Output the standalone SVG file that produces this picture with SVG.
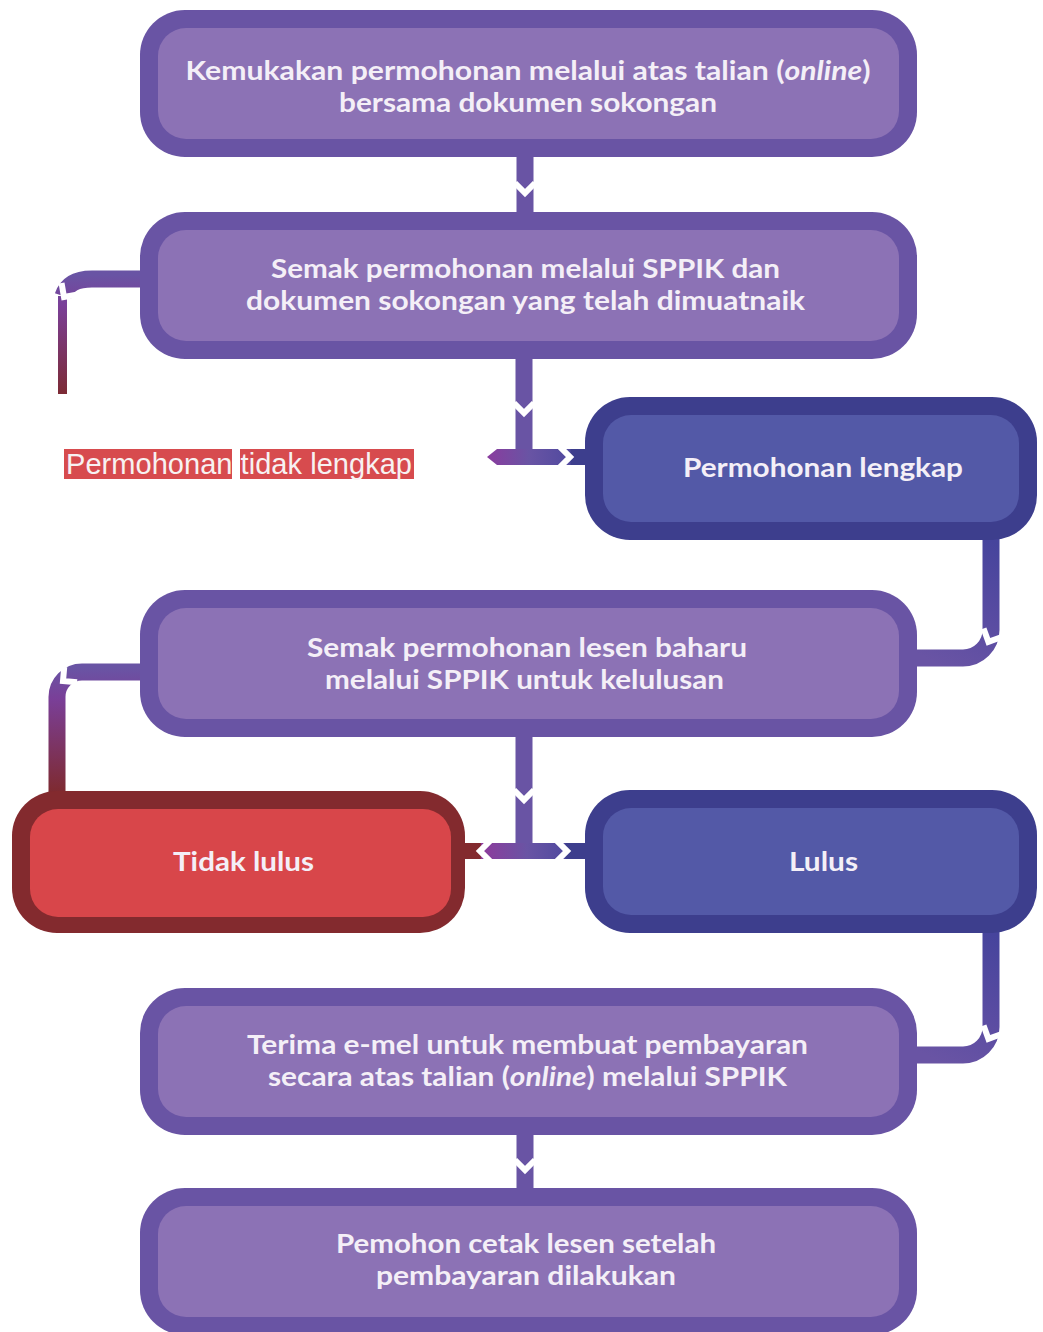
<svg xmlns="http://www.w3.org/2000/svg" width="1043" height="1332" viewBox="0 0 1043 1332">
<defs>
<style>
.po{fill:#6954a4}.pi{fill:#8c72b5}
.bo{fill:#3d3e8d}.bi{fill:#5359a7}
.ro{fill:#832a2e}.ri{fill:#d8464a}
.t{font-family:Lato,"Open Sans","DejaVu Sans",sans-serif;font-weight:700;font-size:26px;fill:#f4eff7;text-anchor:middle}
.chev{fill:none;stroke:#ffffff;stroke-width:6;stroke-linejoin:miter}
.bar{fill:none;stroke:#6954a4;stroke-width:17}
.lbl{font-family:"Liberation Sans",Arial,sans-serif;font-size:29px;fill:#f7f2f2}
</style>
<path id="chev" class="chev" d="M-10,-10 L0,0 L10,-10"/>
<linearGradient id="gBlue1" gradientUnits="userSpaceOnUse" x1="991" y1="540" x2="930" y2="660">
<stop offset="0" stop-color="#46449c"/><stop offset="0.55" stop-color="#5a4ca2"/><stop offset="1" stop-color="#6954a4"/>
</linearGradient>
<linearGradient id="gBlue2" gradientUnits="userSpaceOnUse" x1="991" y1="933" x2="930" y2="1057">
<stop offset="0" stop-color="#46449c"/><stop offset="0.55" stop-color="#5a4ca2"/><stop offset="1" stop-color="#6954a4"/>
</linearGradient>
<linearGradient id="gLeft3" gradientUnits="userSpaceOnUse" x1="57" y1="668" x2="57" y2="792">
<stop offset="0" stop-color="#6954a4"/><stop offset="0.25" stop-color="#7a3f98"/><stop offset="1" stop-color="#7e2a30"/>
</linearGradient>
<linearGradient id="gLeft2" gradientUnits="userSpaceOnUse" x1="62" y1="275" x2="62" y2="395">
<stop offset="0" stop-color="#6954a4"/><stop offset="0.25" stop-color="#7a3f98"/><stop offset="1" stop-color="#7c2a33"/>
</linearGradient>
<linearGradient id="gT1" gradientUnits="userSpaceOnUse" x1="487" y1="0" x2="592" y2="0">
<stop offset="0" stop-color="#8a3c9e"/><stop offset="0.4" stop-color="#6954a4"/><stop offset="0.79" stop-color="#514a9f"/><stop offset="0.8" stop-color="#3d3e8d"/><stop offset="1" stop-color="#3d3e8d"/>
</linearGradient>
<linearGradient id="gT2" gradientUnits="userSpaceOnUse" x1="462" y1="0" x2="592" y2="0">
<stop offset="0" stop-color="#832a2e"/><stop offset="0.14" stop-color="#832a2e"/><stop offset="0.15" stop-color="#8e3b9c"/><stop offset="0.5" stop-color="#6954a4"/><stop offset="0.79" stop-color="#514a9f"/><stop offset="0.8" stop-color="#3d3e8d"/><stop offset="1" stop-color="#3d3e8d"/>
</linearGradient>
</defs>
<rect width="1043" height="1332" fill="#ffffff"/>

<g id="connectors">
<!-- box1 -> box2 -->
<line class="bar" x1="525" y1="150" x2="525" y2="220"/>
<use href="#chev" transform="translate(525,193)"/>
<!-- box2 -> T1 -->
<line class="bar" x1="524" y1="350" x2="524" y2="457"/>
<polygon points="487,457 497,449 592,449 592,465 497,465" fill="url(#gT1)"/>
<use href="#chev" transform="translate(524,413)"/>
<use href="#chev" transform="translate(570,457) rotate(-90)"/>
<!-- box2 left branch -->
<path d="M150 279 H92 C76 279 67 284 63 296" fill="none" stroke="url(#gLeft2)" stroke-width="17"/>
<rect x="58" y="296" width="9" height="98" fill="url(#gLeft2)"/>
<use href="#chev" transform="translate(64,297) rotate(35)"/>
<!-- Permohonan lengkap -> box3 -->
<path d="M991 530 V630 A28 28 0 0 1 963 658 H905" fill="none" stroke="url(#gBlue1)" stroke-width="17"/>
<use href="#chev" transform="translate(988.4,641.8) rotate(25)"/>
<!-- box3 -> T2 -->
<line class="bar" x1="524" y1="730" x2="524" y2="851"/>
<line x1="462" y1="851" x2="592" y2="851" stroke="url(#gT2)" stroke-width="16"/>
<use href="#chev" transform="translate(524,800)"/>
<use href="#chev" transform="translate(480,851) rotate(90)"/>
<use href="#chev" transform="translate(567,851) rotate(-90)"/>
<!-- box3 left branch -> Tidak lulus -->
<path d="M150 672 H82 A25 25 0 0 0 57 697 V800" fill="none" stroke="url(#gLeft3)" stroke-width="17"/>
<use href="#chev" transform="translate(63,681) rotate(50)"/>
<!-- Lulus -> box4 -->
<path d="M991 925 V1027 A28 28 0 0 1 963 1055 H905" fill="none" stroke="url(#gBlue2)" stroke-width="17"/>
<use href="#chev" transform="translate(988.4,1038.8) rotate(25)"/>
<!-- box4 -> box5 -->
<line class="bar" x1="525" y1="1128" x2="525" y2="1196"/>
<use href="#chev" transform="translate(525,1170)"/>
</g>

<g id="node-kemukakan">
<rect class="po" x="140" y="10" width="777" height="147" rx="45"/>
<rect class="pi" x="158" y="28" width="741" height="111" rx="28"/>
<text class="t" x="528" y="79.5" textLength="685" lengthAdjust="spacingAndGlyphs">Kemukakan permohonan melalui atas talian (<tspan font-style="italic">online</tspan>)</text>
<text class="t" x="528" y="111.5" textLength="378" lengthAdjust="spacingAndGlyphs">bersama dokumen sokongan</text>
</g>

<g id="node-semak1">
<rect class="po" x="140" y="212" width="777" height="147" rx="45"/>
<rect class="pi" x="158" y="230" width="741" height="111" rx="28"/>
<text class="t" x="525.5" y="277.5" textLength="509" lengthAdjust="spacingAndGlyphs">Semak permohonan melalui SPPIK dan</text>
<text class="t" x="525.5" y="309.5" textLength="559" lengthAdjust="spacingAndGlyphs">dokumen sokongan yang telah dimuatnaik</text>
</g>

<g id="label-tidak-lengkap">
<rect x="64" y="449" width="168" height="30" fill="#d74b4e"/>
<rect x="240" y="449" width="174" height="30" fill="#d74b4e"/>
<text class="lbl" x="66" y="474" textLength="346" lengthAdjust="spacing">Permohonan tidak lengkap</text>
</g>

<g id="node-lengkap">
<rect class="bo" x="585" y="397" width="452" height="143" rx="45"/>
<rect class="bi" x="603" y="415" width="416" height="107" rx="28"/>
<text class="t" x="823" y="477" textLength="280" lengthAdjust="spacingAndGlyphs">Permohonan lengkap</text>
</g>

<g id="node-semak2">
<rect class="po" x="140" y="590" width="777" height="147" rx="45"/>
<rect class="pi" x="158" y="608" width="741" height="111" rx="28"/>
<text class="t" x="527" y="656.5" textLength="440" lengthAdjust="spacingAndGlyphs">Semak permohonan lesen baharu</text>
<text class="t" x="524.5" y="688.5" textLength="399" lengthAdjust="spacingAndGlyphs">melalui SPPIK untuk kelulusan</text>
</g>

<g id="node-tidak-lulus">
<rect class="ro" x="12" y="791" width="453" height="142" rx="45"/>
<rect class="ri" x="30" y="809" width="421" height="108" rx="28"/>
<text class="t" x="243.5" y="871" textLength="141" lengthAdjust="spacingAndGlyphs">Tidak lulus</text>
</g>

<g id="node-lulus">
<rect class="bo" x="585" y="790" width="452" height="143" rx="45"/>
<rect class="bi" x="603" y="808" width="416" height="107" rx="28"/>
<text class="t" x="823.5" y="871" textLength="69" lengthAdjust="spacingAndGlyphs">Lulus</text>
</g>

<g id="node-terima">
<rect class="po" x="140" y="988" width="777" height="147" rx="45"/>
<rect class="pi" x="158" y="1006" width="741" height="111" rx="28"/>
<text class="t" x="527.5" y="1053.5" textLength="561" lengthAdjust="spacingAndGlyphs">Terima e-mel untuk membuat pembayaran</text>
<text class="t" x="527.5" y="1085.5" textLength="519" lengthAdjust="spacingAndGlyphs">secara atas talian (<tspan font-style="italic">online</tspan>) melalui SPPIK</text>
</g>

<g id="node-cetak">
<rect class="po" x="140" y="1188" width="777" height="147" rx="45"/>
<rect class="pi" x="158" y="1206" width="741" height="111" rx="28"/>
<text class="t" x="526" y="1252.5" textLength="380" lengthAdjust="spacingAndGlyphs">Pemohon cetak lesen setelah</text>
<text class="t" x="526" y="1284.5" textLength="300" lengthAdjust="spacingAndGlyphs">pembayaran dilakukan</text>
</g>
</svg>
